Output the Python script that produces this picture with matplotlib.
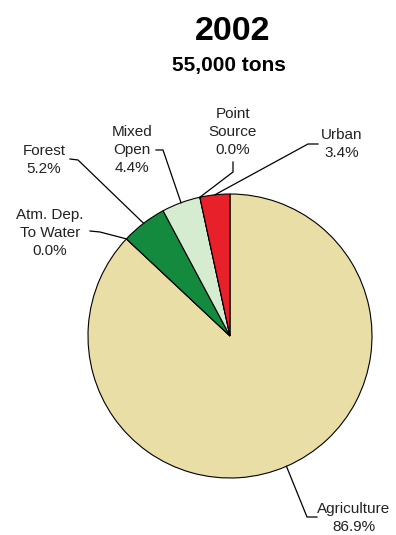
import numpy as np
import matplotlib.pyplot as plt

# slices, clockwise from 12 o'clock
labels = ["Agriculture", "Atm. Dep.\nTo Water", "Forest", "Mixed\nOpen", "Point\nSource", "Urban"]
shares = [86.9, 0.0, 5.2, 4.4, 0.0, 3.4]
colors = ["#e8dea6", "#e8dea6", "#138a3e", "#d5ecd0", "#d5ecd0", "#e8202a"]

title = "2002"
subtitle = "55,000 tons"

W, H = 396, 535
CX, CY, R = 230, 336, 142  # pie centre/radius in pixels


def px(x, y):
    return (x - CX) / R, (CY - y) / R


fig = plt.figure(figsize=(W / 100, H / 100), dpi=100)
ax = fig.add_axes([0, 0, 1, 1])

wedges, _ = ax.pie(shares, colors=colors, startangle=90, counterclock=False,
                   radius=1, wedgeprops=dict(edgecolor="black", linewidth=0.8))

ax.set_xlim(px(0, 0)[0], px(W, 0)[0])
ax.set_ylim(px(0, H)[1], px(0, 0)[1])
ax.set_aspect("equal")
ax.axis("off")

# label text centre, elbow start, elbow end (pixels)
layout = [
    ((354, 518), (317, 517), (307, 517)),
    ((50, 233), (90, 231), (100, 232)),
    ((44, 160), (70, 159), (78, 160)),
    ((132, 150), (156, 150), (163, 150)),
    ((233, 132), (233, 162), (233, 172)),
    ((342, 144), (318, 144), (308, 144)),
]

for w, lab, val, (tpos, p0, p1) in zip(wedges, labels, shares, layout):
    mid = np.deg2rad((w.theta1 + w.theta2) / 2)
    anchor = (np.cos(mid), np.sin(mid))
    a, b = px(*p0), px(*p1)
    ax.plot([a[0], b[0], anchor[0]], [a[1], b[1], anchor[1]], color="black", lw=0.9,
            solid_joinstyle="miter")
    ax.text(*px(*tpos), f"{lab}\n{val:.1f}%", ha="center", va="center",
            fontsize=11, family="Liberation Sans", linespacing=1.4, color="#222222")

fig.text(233 / W, 1 - 31 / H, title, ha="center", va="center", fontsize=24.5,
         fontweight="bold", family="Liberation Sans")
fig.text(229 / W, 1 - 66 / H, subtitle, ha="center", va="center", fontsize=15,
         fontweight="bold", family="Liberation Sans")

fig.savefig("out.png", dpi=100)
